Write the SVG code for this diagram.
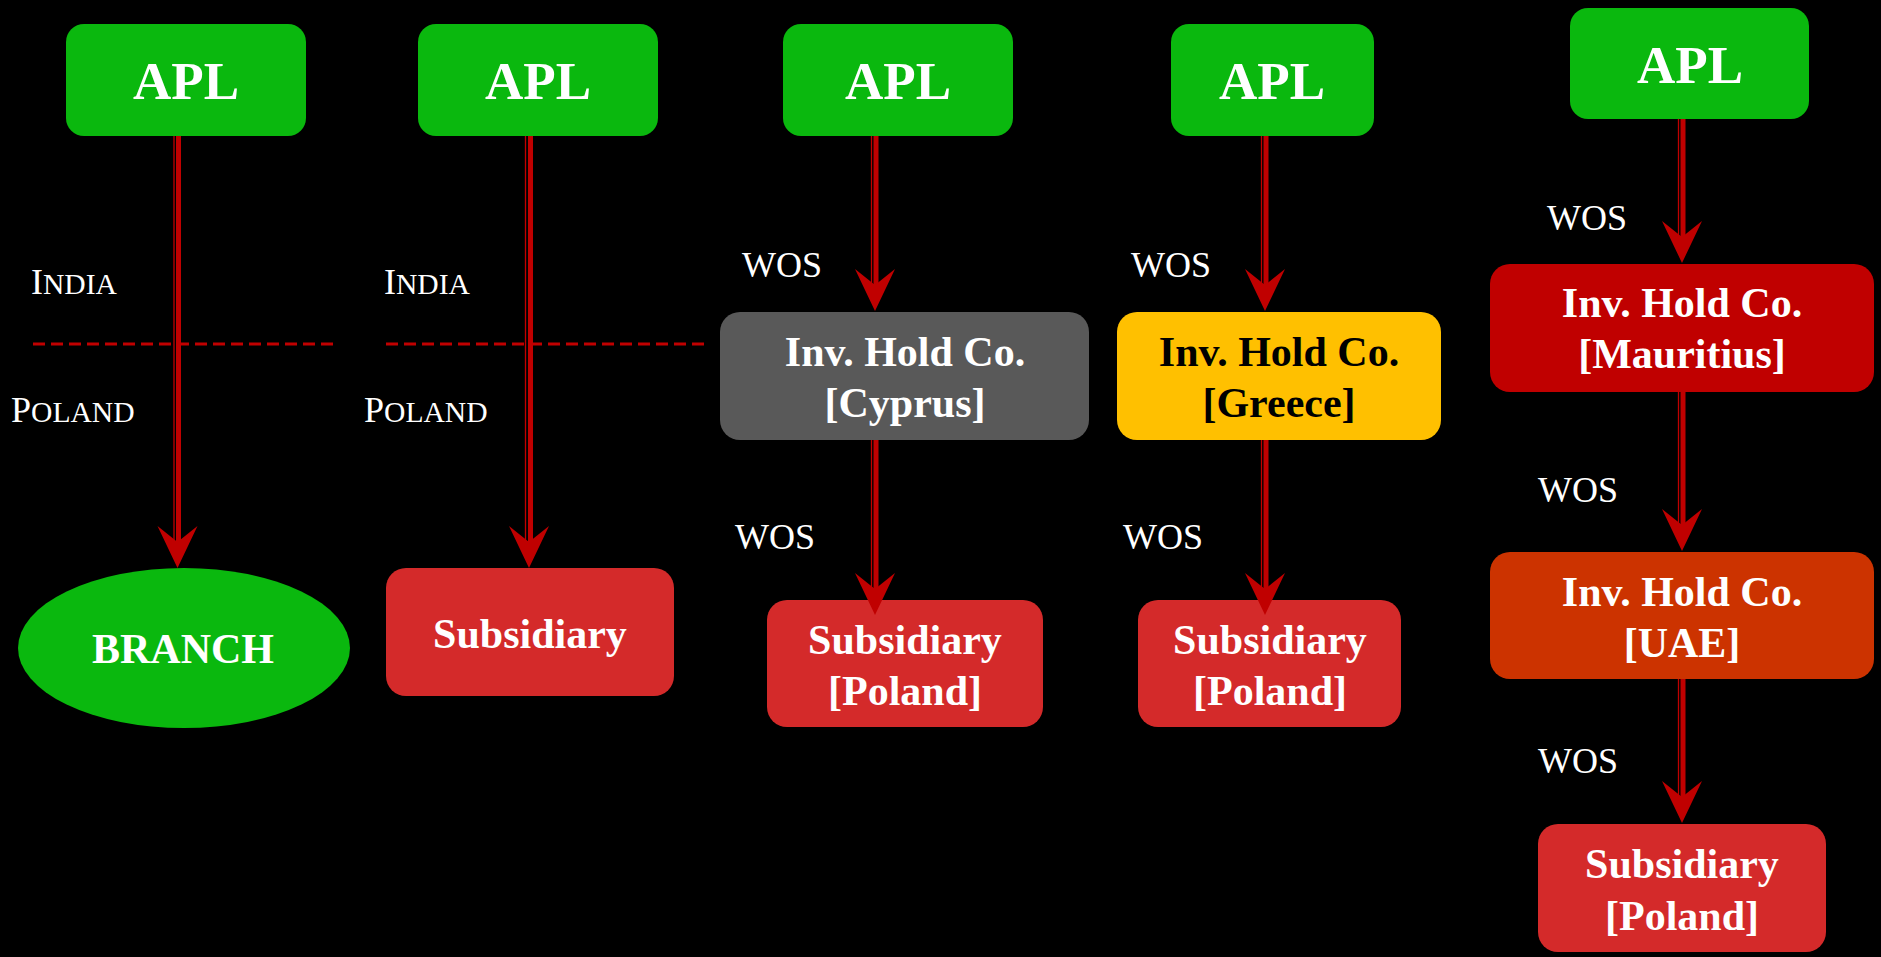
<svg xmlns="http://www.w3.org/2000/svg" width="1881" height="957" viewBox="0 0 1881 957">
<defs>
<style>
.bg{fill:#000}
.green{fill:#0ab80e}
.sub{fill:#d42a2a}
.t{font-family:"Liberation Serif","Times New Roman",serif;font-weight:bold;font-size:42px;fill:#fff;text-anchor:middle}
.apl{font-size:53px}
.lbl{font-family:"Liberation Serif","Times New Roman",serif;font-size:36px;fill:#fff}
.sc{font-size:29.6px}
.thick{stroke:#c00000;stroke-width:5;fill:none}
.thin{stroke:#c00000;stroke-width:1.3;fill:none}
.head{fill:#c00000}
.dash{stroke:#c00000;stroke-width:3;stroke-dasharray:12 6;fill:none}
</style>
<path id="ah" d="M0,0 L-20,-42 L0,-26 L20,-42 Z"/>
</defs>
<rect class="bg" x="0" y="0" width="1881" height="957"/>

<g id="dividers">
<line class="dash" x1="33" y1="344" x2="337" y2="344"/>
<line class="dash" x1="386" y1="344" x2="706" y2="344"/>
</g>

<g id="labels">
<text class="lbl" x="31" y="294">I<tspan class="sc">NDIA</tspan></text>
<text class="lbl" x="11" y="422">P<tspan class="sc">OLAND</tspan></text>
<text class="lbl" x="384" y="294">I<tspan class="sc">NDIA</tspan></text>
<text class="lbl" x="364" y="422">P<tspan class="sc">OLAND</tspan></text>
<text class="lbl" x="742" y="277">WOS</text>
<text class="lbl" x="735" y="549">WOS</text>
<text class="lbl" x="1131" y="277">WOS</text>
<text class="lbl" x="1123" y="549">WOS</text>
<text class="lbl" x="1547" y="230">WOS</text>
<text class="lbl" x="1538" y="502">WOS</text>
<text class="lbl" x="1538" y="773">WOS</text>
</g>

<g id="apl1"><rect class="green" x="66" y="24" width="240" height="112" rx="18"/><text class="t apl" x="186" y="99">APL</text></g>
<g id="apl2"><rect class="green" x="418" y="24" width="240" height="112" rx="18"/><text class="t apl" x="538" y="99">APL</text></g>
<g id="apl3"><rect class="green" x="783" y="24" width="230" height="112" rx="18"/><text class="t apl" x="898" y="99">APL</text></g>
<g id="apl4"><rect class="green" x="1171" y="24" width="203" height="112" rx="18"/><text class="t apl" x="1272" y="99">APL</text></g>
<g id="apl5"><rect class="green" x="1570" y="8" width="239" height="111" rx="18"/><text class="t apl" x="1690" y="83">APL</text></g>

<g id="branch"><ellipse class="green" cx="184" cy="648" rx="166" ry="80"/><text class="t" x="183" y="663">BRANCH</text></g>
<g id="subsidiary2"><rect class="sub" x="386" y="568" width="288" height="128" rx="20"/><text class="t" x="530" y="648">Subsidiary</text></g>

<g id="cyprus"><rect fill="#595959" x="720" y="312" width="369" height="128" rx="20"/><text class="t" x="905" y="366">Inv. Hold Co.</text><text class="t" x="905" y="417">[Cyprus]</text></g>
<g id="greece"><rect fill="#ffc000" x="1117" y="312" width="324" height="128" rx="20"/><text class="t" x="1279" y="366" style="fill:#000">Inv. Hold Co.</text><text class="t" x="1279" y="417" style="fill:#000">[Greece]</text></g>
<g id="mauritius"><rect fill="#c00000" x="1490" y="264" width="384" height="128" rx="20"/><text class="t" x="1682" y="317">Inv. Hold Co.</text><text class="t" x="1682" y="368">[Mauritius]</text></g>
<g id="uae"><rect fill="#cc3300" x="1490" y="552" width="384" height="127" rx="20"/><text class="t" x="1682" y="606">Inv. Hold Co.</text><text class="t" x="1682" y="657">[UAE]</text></g>

<g id="connectors">
<line class="thick" x1="178.5" y1="136" x2="178.5" y2="545"/><line class="thin" x1="174" y1="136" x2="174" y2="545"/><use href="#ah" class="head" x="177.5" y="568"/>
<line class="thick" x1="530.5" y1="136" x2="530.5" y2="545"/><line class="thin" x1="525.5" y1="136" x2="525.5" y2="545"/><use href="#ah" class="head" x="529" y="568"/>
<line class="thick" x1="876" y1="136" x2="876" y2="288"/><line class="thin" x1="871.5" y1="136" x2="871.5" y2="288"/><use href="#ah" class="head" x="875" y="311"/>
<line class="thick" x1="1266" y1="136" x2="1266" y2="288"/><line class="thin" x1="1261.5" y1="136" x2="1261.5" y2="288"/><use href="#ah" class="head" x="1265" y="311"/>
<line class="thick" x1="1683" y1="119" x2="1683" y2="240"/><line class="thin" x1="1678.5" y1="119" x2="1678.5" y2="240"/><use href="#ah" class="head" x="1682" y="263"/>
<line class="thick" x1="1683" y1="392" x2="1683" y2="528"/><line class="thin" x1="1678.5" y1="392" x2="1678.5" y2="528"/><use href="#ah" class="head" x="1682" y="551"/>
<line class="thick" x1="1683" y1="679" x2="1683" y2="800"/><line class="thin" x1="1678.5" y1="679" x2="1678.5" y2="800"/><use href="#ah" class="head" x="1682" y="823"/>
</g>

<g id="subpoland3"><rect class="sub" x="767" y="600" width="276" height="127" rx="20"/><text class="t" x="905" y="654">Subsidiary</text><text class="t" x="905" y="705">[Poland]</text></g>
<g id="subpoland4"><rect class="sub" x="1138" y="600" width="263" height="127" rx="20"/><text class="t" x="1270" y="654">Subsidiary</text><text class="t" x="1270" y="705">[Poland]</text></g>
<g id="subpoland5"><rect class="sub" x="1538" y="824" width="288" height="128" rx="20"/><text class="t" x="1682" y="878">Subsidiary</text><text class="t" x="1682" y="930">[Poland]</text></g>

<g id="connectors-overlap">
<line class="thick" x1="876" y1="440" x2="876" y2="592"/><line class="thin" x1="871.5" y1="440" x2="871.5" y2="592"/><use href="#ah" class="head" x="875" y="615"/>
<line class="thick" x1="1266" y1="440" x2="1266" y2="592"/><line class="thin" x1="1261.5" y1="440" x2="1261.5" y2="592"/><use href="#ah" class="head" x="1265" y="615"/>
</g>
</svg>
